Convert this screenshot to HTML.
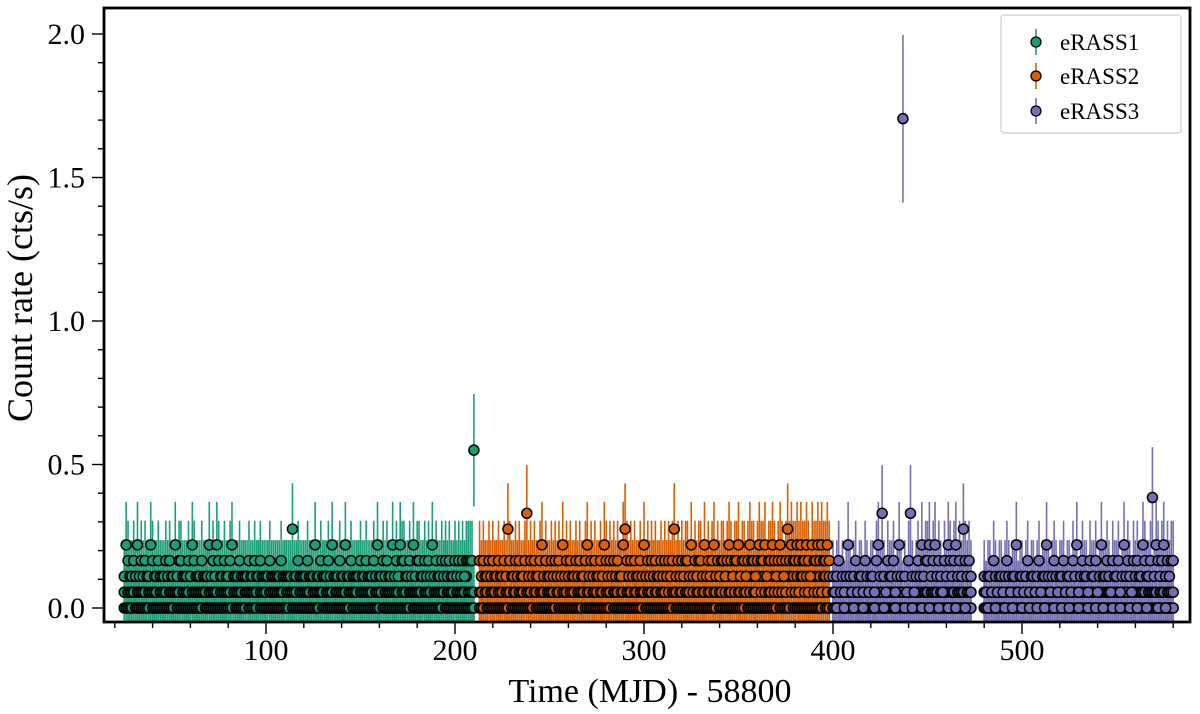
<!DOCTYPE html>
<html><head><meta charset="utf-8"><style>
html,body{margin:0;padding:0;background:#fff;}
svg{display:block;font-family:"Liberation Serif","DejaVu Serif",serif;}
</style></head><body>
<svg id="chart" width="1200" height="714" viewBox="0 0 1200 714">
<defs><clipPath id="plotclip"><rect x="104" y="8" width="1086" height="614"/></clipPath></defs>
<g id="marks" clip-path="url(#plotclip)"></g>
<rect x="104" y="8" width="1086" height="614" fill="none" stroke="#000" stroke-width="2.8"/>
<g id="axes"></g>
<text x="650" y="702" font-size="34" text-anchor="middle">Time (MJD) - 58800</text>
<text transform="translate(32,298) rotate(-90)" font-size="36" text-anchor="middle">Count rate (cts/s)</text>
<g id="legend">
<rect x="1001" y="15" width="180" height="118" rx="3" fill="#fff" stroke="#ccc" stroke-width="1.2"/>
</g>
</svg>
<script>
const LEVEL = 0.055;
const seriesNames = ["eRASS1","eRASS2","eRASS3"];
const seriesColors = ["#1b9e77","#d95f02","#7570b3"];
const seriesStart = [25, 213, 400];
const xTicks = [100,200,300,400,500];
const yTicks = [0.0,0.5,1.0,1.5,2.0];
const yTickLabels = ["0.0","0.5","1.0","1.5","2.0"];
const xTickLabels = ["100","200","300","400","500"];

const e1A = [0,0,0,0,0,1,0,0,0,0, 0,0,0,0,1,0,0,0,0,0, 0,0,0,0,0,0,0,1,0,0, 0,0,0,0,0,0,0,0,0,0, 0,0,1,0,0,0,0,0,0,0, 0,0,0,0,0,0,0,0,1,0, 0,0,0,0,0,-1,0,0,0,0, 0,1,0,0,0,0,0,0,0,0, 0,0,0,0,0,0,0,0,1,0, 0,0,0,0,0,0,0,0,0,0, 0,0,0,0,1,0,0,0,0,0, 0,0,0,0,0,0,0,0,0,0, 1,0,0,0,0,0,0,0,0,0, 0,0,0,0,0,0,1,0,0,0, 0,0,0,0,0,0,0,0,0,0, 0,0,1,0,0,0,0,0,0,0, 0,0,0,0,0,0,0,0,0,1, 0,0,0,0,0,0,0,0,0,0, 0,0,0,0,0,0];
const e1B = [1,2,1,1,1,1,2,1,1,1, 1,1,2,1,1,1,1,1,2,1, 1,1,1,2,1,1,1,1,1,1, 2,1,1,1,1,2,1,1,1,1, 1,1,1,1,2,1,1,1,1,1, 2,1,1,1,1,1,1,2,1,1, 1,1,1,2,1,1,1,1,1,1, 1,2,1,1,1,1,2,1,1,1, 1,1,1,1,1,2,1,1,1,1, 1,1,2,1,1,1,1,1,1,2, 1,1,1,1,1,1,2,1,1,1, 1,2,1,1,1,1,1,1,2,1, 1,1,1,1,2,1,1,1,1,1, 1,1,2,1,1,1,1,2,1,1, 1,1,1,1,1,1,2,1,1,1, 2,1,1,1,1,1,1,1,2,1, 1,1,1,2,1,1,1,1,1,1, 2,1,1,1,1,2,1,1,1,1, 1,2,1,1,1,1];
const e1C = [2,4,3,2,2,3,2,4,2,3, 2,3,2,2,4,3,2,2,3,2, 2,2,3,2,3,2,2,4,2,3, 3,2,2,2,3,2,4,3,2,2, 2,3,2,2,2,4,2,3,2,4, 3,2,2,3,2,2,3,4,2,2, 2,3,2,2,2,2,3,2,2,3, 2,2,3,2,2,2,2,3,2,2, 2,2,2,3,2,2,2,2,2,5, 2,2,3,2,2,2,2,3,2,2, 2,4,2,2,3,2,2,2,3,2, 4,2,2,2,3,2,2,4,2,2, 3,2,2,2,2,3,2,2,3,2, 2,2,3,2,4,2,2,3,2,3, 2,2,4,2,3,2,4,3,3,2, 2,3,2,4,2,3,3,2,2,3, 2,3,2,4,2,3,2,2,3,2, 3,2,3,2,2,3,2,3,2,3, 2,3,3,3,3,10];

const e2A = [0,0,0,1,0,0,0,0,0,0, 0,0,0,0,0,0,1,0,0,0, 0,0,0,0,0,0,0,0,0,1, 0,0,0,0,0,0,0,0,0,0, 0,1,0,0,0,0,0,0,0,0, 0,0,0,0,0,1,0,0,0,0, 0,0,0,0,0,0,0,0,0,0, 1,0,0,0,0,0,0,0,0,0, 0,0,0,0,0,0,0,1,0,0, 0,0,0,0,0,0,0,0,0,0, 0,0,0,1,0,0,0,0,0,0, 0,0,0,0,0,0,0,0,0,0, 0,0,0,0,0,0,1,0,0,0, 0,0,0,0,0,0,0,0,0,0, 0,1,0,0,0,0,0,0,0,0, 0,0,0,0,0,0,0,0,1,0, 0,0,0,0,0,-1,0,0,0,0, 0,0,0,0,0,0,0,0,0,0, 0,0,1,0,0,0];
const e2B = [1,1,2,1,1,2,1,1,1,2, 1,1,1,2,1,1,1,2,1,1, 2,1,1,1,2,1,1,1,2,1, 1,2,1,1,1,2,1,1,1,1, 2,1,1,2,1,1,1,2,1,1, 1,2,1,1,1,1,2,1,1,2, 1,1,1,2,1,1,2,1,1,1, 2,1,1,1,2,1,1,2,1,1, 1,2,1,1,2,1,1,1,2,1, 1,1,2,1,1,2,1,1,1,2, 1,2,1,1,1,2,1,1,2,1, 1,1,2,1,2,1,1,2,1,1, 2,1,1,2,1,1,2,1,1,2, 1,2,1,1,2,1,2,1,1,2, 1,1,2,1,2,1,1,2,2,1, 2,1,2,1,1,2,1,2,1,2, 1,2,1,2,2,1,2,1,2,1, 2,2,1,2,1,2,2,1,2,1, 2,1,2,2,1,2];
const e2C = [3,2,3,2,2,3,2,3,2,2, 3,2,2,3,2,5,3,2,2,3, 2,3,2,2,3,6,2,3,2,3, 2,2,3,4,2,3,2,2,3,2, 3,2,3,2,4,2,3,2,3,2, 2,3,2,3,2,2,3,4,2,3, 2,3,2,2,3,2,4,3,2,3, 2,3,2,3,2,2,4,5,3,2, 3,2,3,2,2,3,2,4,2,3, 2,3,2,3,2,2,3,2,3,2, 3,2,3,5,2,3,2,3,2,3, 3,2,4,2,3,2,3,3,2,4, 2,3,2,3,4,2,3,2,3,3, 2,3,4,3,2,3,3,4,2,3, 3,2,3,4,3,3,2,3,4,3, 3,4,2,3,3,4,3,2,3,4, 3,2,3,5,3,4,3,3,4,3, 4,3,3,4,3,2,4,3,3,4, 3,4,3,3,4,3];

const e3A = [0,0,0,0,0,0,0,0,0,0, 0,0,0,0,0,0,0,0,0,0, 0,0,0,0,0,0,0,0,0,0, 0,0,0,0,0,0,0,0,0,0, 0,0,0,0,0,0,0,0,0,0, 0,0,0,0,0,0,0,0,0,0, 0,0,0,0,0,0,0,0,0,0, 0,0,0,0,-1,-1,-1,-1,-1,-1, 0,0,0,0,0,0,0,0,0,0, 0,0,0,0,0,0,0,0,0,0, 0,0,0,0,0,0,0,0,0,0, 0,0,0,0,0,0,0,0,0,0, 0,0,0,0,0,0,0,0,0,0, 0,0,0,0,0,0,0,0,0,0, 0,0,0,0,0,0,0,0,0,0, 0,0,0,0,0,0,0,0,0,0, 0,0,0,0,0,0,0,0,0,0, 0,0,0,0,0,0,0,0,0,0, 0];
const e3B = [1,1,0,1,1,1,0,1,1,1, 1,0,1,1,1,1,0,1,1,1, 1,1,0,1,1,1,1,0,1,1, 1,1,1,0,1,1,1,1,0,1, 1,1,0,1,1,1,1,0,1,1, 1,0,1,1,1,1,0,1,1,1, 1,0,1,1,1,0,1,1,1,1, 0,1,1,1,-1,-1,-1,-1,-1,-1, 1,1,0,1,1,1,0,1,1,1, 1,0,1,1,1,0,1,1,1,1, 0,1,1,1,0,1,1,1,0,1, 1,1,0,1,1,1,1,0,1,1, 1,0,1,1,1,0,1,1,1,1, 0,1,1,1,1,0,1,1,1,0, 1,1,1,0,1,1,1,1,0,1, 1,1,0,1,1,1,1,0,1,1, 1,0,1,1,1,1,0,1,1,1, 1,1,0,1,1,1,0,1,1,1, 1];
const e3C = [2,1,2,3,1,2,1,2,4,2, 1,2,3,1,2,2,1,3,2,1, 2,2,1,3,4,2,6,2,1,3, 2,2,3,1,2,4,2,31,2,1, 3,6,2,1,2,3,2,4,2,3, 3,4,2,3,4,2,3,2,1,3, 2,4,3,2,3,4,2,3,2,5, 3,2,3,2,-1,-1,-1,-1,-1,-1, 2,1,2,2,1,3,2,1,2,2, 1,2,3,2,1,2,2,4,1,2, 2,1,2,3,1,2,2,1,2,3, 1,2,2,4,2,1,2,3,2,1, 2,2,3,1,2,2,1,3,2,4, 1,2,3,2,2,1,3,2,2,3, 1,2,4,2,2,3,2,1,3,2, 2,3,1,2,4,2,3,2,1,3, 2,3,2,2,4,3,2,2,3,7, 2,4,3,2,3,4,2,3,2,3, 3];

const seriesPasses = [[e1A,e1B,e1C],[e2A,e2B,e2C],[e3A,e3B,e3C]];

const NS = "http://www.w3.org/2000/svg";
const X0 = 104, X1 = 1190, Y0 = 8, Y1 = 622;
function xScale(t){ return 266 + (t - 100) * 1.89; }
function yScale(r){ return 608 - r * 287; }
function errOf(r){ return 0.07 + 0.17 * Math.sqrt(r); }
function mk(tag, attrs){ const e = document.createElementNS(NS, tag); for (const k in attrs) e.setAttribute(k, attrs[k]); return e; }

const marks = document.getElementById("marks");
const barG = mk("g", {});


const dotG = mk("g", {});


marks.appendChild(barG); marks.appendChild(dotG);

seriesPasses.forEach((passes, si) => {
  const col = seriesColors[si];
  passes.forEach(arr => {
    arr.forEach((lv, i) => {
      if (lv < 0) return;
      const t = seriesStart[si] + i;
      const r = lv * LEVEL;
      const e = errOf(r);
      const x = xScale(t);
      const ln = mk("line", {x1:x, x2:x, y1:yScale(r - e), y2:yScale(r + e), stroke:col, "stroke-width":1.6});
      
      
      barG.appendChild(ln);
    });
  });
});
seriesPasses.forEach((passes, si) => {
  const col = seriesColors[si];
  passes.forEach(arr => {
    arr.forEach((lv, i) => {
      if (lv < 0) return;
      const t = seriesStart[si] + i;
      const r = lv * LEVEL;
      const c = mk("circle", {cx:xScale(t), cy:yScale(r), r:5, fill:col, stroke:"#000", "stroke-width":1.5});
      
      
      dotG.appendChild(c);
    });
  });
});

const axes = document.getElementById("axes");
for (let t = 20; t <= 580; t += 20) {
  const x = xScale(t);
  if (x < X0 || x > X1) continue;
  const major = t % 100 === 0;
  const tk = mk("line", {x1:x, x2:x, y1:Y1, y2:Y1 + (major ? 12 : 6), stroke:"#000", "stroke-width":1.4});
  
  
  axes.appendChild(tk);
}
xTicks.forEach((t, i) => {
  const tx = mk("text", {x:xScale(t), y:660, "font-size":30, "text-anchor":"middle"});
  tx.textContent = xTickLabels[i];
  
  
  axes.appendChild(tx);
});
for (let k = 0; k <= 21; k++) {
  const r = k * 0.1;
  const y = yScale(r);
  if (y < Y0) continue;
  const major = k % 5 === 0;
  const tk = mk("line", {x1:X0, x2:X0 - (major ? 12 : 6), y1:y, y2:y, stroke:"#000", "stroke-width":1.4});
  
  
  axes.appendChild(tk);
}
yTicks.forEach((r, i) => {
  const tx = mk("text", {x:85, y:yScale(r) + 10, "font-size":30, "text-anchor":"end"});
  tx.textContent = yTickLabels[i];
  
  
  axes.appendChild(tx);
});

const legend = document.getElementById("legend");
const legendY = [42, 76, 111];
seriesNames.forEach((n, i) => {
  const g = mk("g", {});
  
  
  const y = legendY[i];
  g.appendChild(mk("line", {x1:1036, x2:1036, y1:y - 13, y2:y + 13, stroke:seriesColors[i], "stroke-width":1.6}));
  g.appendChild(mk("circle", {cx:1036, cy:y, r:5, fill:seriesColors[i], stroke:"#000", "stroke-width":1.3}));
  const tx = mk("text", {x:1060, y:y + 8, "font-size":23});
  tx.textContent = n;
  g.appendChild(tx);
  legend.appendChild(g);
});
</script>
</body></html>
